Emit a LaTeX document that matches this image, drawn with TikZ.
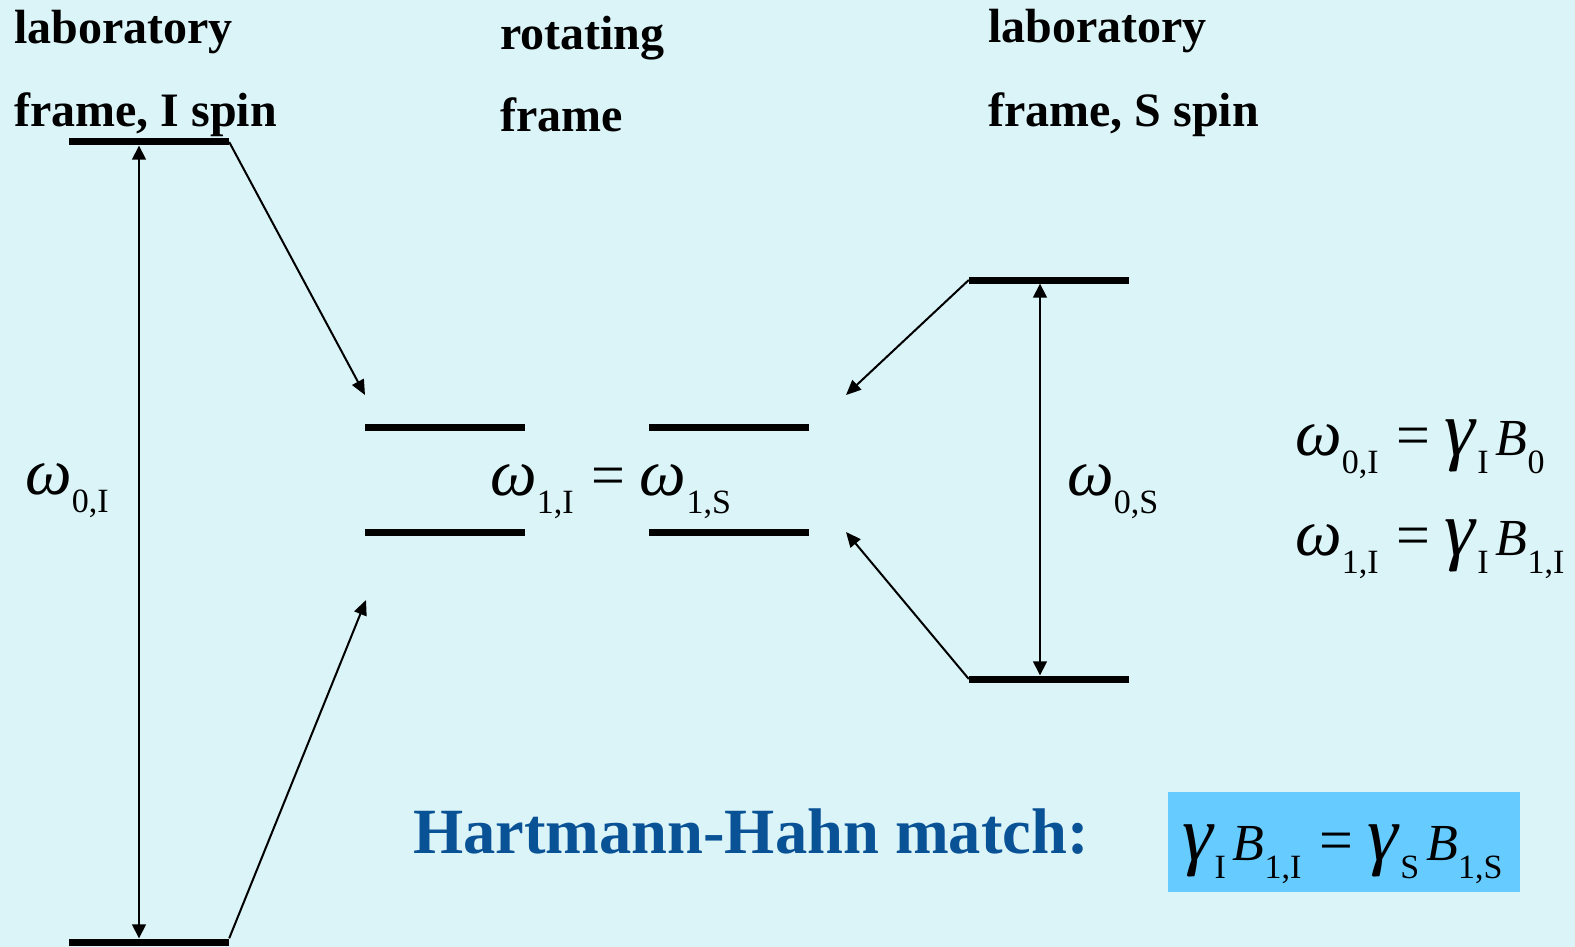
\documentclass[tikz,border=0pt]{standalone}
\usepackage{fontspec}
\setmainfont{Liberation Serif}
\usetikzlibrary{arrows.meta}
\definecolor{bg}{HTML}{DBF4F8}
\definecolor{hhblue}{RGB}{10,82,150}
\definecolor{boxblue}{HTML}{66CCFF}
\newcommand\mainsz{\fontsize{50}{60}\selectfont}
\newcommand\sbs[1]{\raisebox{-18pt}{\fontsize{34}{34}\selectfont #1}}
\newcommand\om{{\fontsize{66}{66}\selectfont\textit{ω}}}
\newcommand\ga{{\fontsize{78}{78}\selectfont\textit{γ}}}
\newcommand\Bf{\hspace{7pt}{\fontsize{52}{52}\selectfont\textit{B}}}
\newcommand\eqs{\hspace{0.35em}{\fontsize{60}{60}\selectfont=}\hspace{0.3em}}
\begin{document}
\begin{tikzpicture}[x=1pt,y=-1pt,
  level/.style={fill=black,inner sep=0pt,minimum width=160pt,minimum height=7pt},
  arr/.style={line width=2pt,-{Triangle[length=15pt,width=13pt]}},
  dbl/.style={line width=1.6pt,{Triangle[length=14pt,width=14pt]}-{Triangle[length=14pt,width=14pt]}},
  lbl/.style={anchor=base west,inner sep=0pt,font=\fontsize{48}{56}\selectfont\bfseries},
  eqn/.style={anchor=base west,inner sep=0pt,font=\mainsz}]
\fill[bg] (0,0) rectangle (1575,947);
\useasboundingbox (0,0) rectangle (1575,947);
% levels
\node[level] (Itop) at (149,142) {};
\node[level] (Ibot) at (149,942) {};
\node[level] (R1) at (445,427) {};
\node[level] (R2) at (445,532) {};
\node[level] (R3) at (729,427) {};
\node[level] (R4) at (729,532) {};
\node[level] (Stop) at (1049,280) {};
\node[level] (Sbot) at (1049,679) {};
% free arrow ends
\coordinate (tA) at (365,395);
\coordinate (tB) at (366,600);
\coordinate (tC) at (846,395);
\coordinate (tD) at (846,532);
\coordinate (xI) at (139,0);
\coordinate (xS) at (1040,0);
% arrows
\draw[arr] (Itop.east) -- (tA);
\draw[arr] (Ibot.north east) -- (tB);
\draw[arr] (Stop.west) -- (tC);
\draw[arr] (Sbot.west) -- (tD);
\draw[dbl] (Itop.south -| xI) -- (Ibot.north -| xI);
\draw[dbl] (Stop.south -| xS) -- (Sbot.north -| xS);
% labels
\node[lbl] (l1) at (14,44) {laboratory};
\node[lbl] (l2) at (14,127) {frame, I spin};
\node[lbl] (r1) at (500,50) {rotating};
\node[lbl] (r2) at (500,132) {frame};
\node[lbl] (s1) at (988,43) {laboratory};
\node[lbl] (s2) at (988,127) {frame, S spin};
% math
\node[eqn] (w0I) at (25,494) {\om\sbs{0,I}};
\node[eqn] (wmid) at (490,495) {\om\sbs{1,I}\eqs\om\sbs{1,S}};
\node[eqn] (w0S) at (1067,495) {\om\sbs{0,S}};
\node[eqn] (e1) at (1295,455) {\om\sbs{0,I}\eqs\ga\sbs{I}\Bf\sbs{0}};
\node[eqn] (e2) at (1295,555) {\om\sbs{1,I}\eqs\ga\sbs{I}\Bf\sbs{1,I}};
% Hartmann-Hahn
\node[anchor=base west,inner sep=0pt,text=hhblue,font=\fontsize{64.5}{75}\selectfont\bfseries] (hh) at (413,853) {Hartmann-Hahn match:};
\node[fill=boxblue,inner sep=0pt,minimum width=352pt,minimum height=100pt] (box) at (1344,842) {};
\node[eqn] (hheq) at (1182,860) {\ga\sbs{I}\Bf\sbs{1,I}\eqs\ga\sbs{S}\Bf\sbs{1,S}};
\end{tikzpicture}
\end{document}
